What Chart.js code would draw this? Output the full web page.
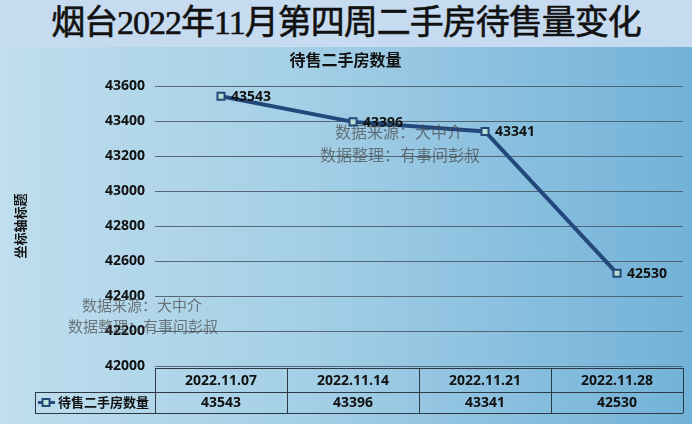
<!DOCTYPE html>
<html>
<head>
<meta charset="utf-8">
<script src="https://cdn.jsdelivr.net/npm/chart.js@4"></script>
<style>
  body { margin: 0; width: 692px; height: 424px; overflow: hidden; background: #c8dcf0; }
  #head {
    position: absolute; left: 0; top: 0; width: 692px; height: 46px;
    background: #c6dbf0;
    font-family: "Liberation Serif", "Noto Sans CJK SC", serif;
    font-size: 34px; font-weight: normal; color: #111;
    -webkit-text-stroke: 0.6px #111;
    line-height: 46px; text-align: center; letter-spacing: -1px;
  }
  #box {
    position: absolute; left: 0; top: 47px; width: 692px; height: 377px;
    background: linear-gradient(to right, #bfdeee 0%, #a4cfe6 45%, #72b2d8 100%);
  }
</style>
</head>
<body>
<div id="head">烟台2022年11月第四周二手房待售量变化</div>
<div id="box"><canvas id="c" width="692" height="377"></canvas></div>
<script>
var dates = ['2022.11.07', '2022.11.14', '2022.11.21', '2022.11.28'];
var stock = [43543, 43396, 43341, 42530];
var seriesName = '待售二手房数量';
var yMin = 42000, yMax = 43600, yStep = 200;

var lineColor = '#23497c';
var cjk = '"Noto Sans CJK SC", sans-serif';
var num = '"Open Sans", "Noto Sans CJK SC", sans-serif';

// value labels, watermark and the data table under the plot
var extras = {
  id: 'extras',
  afterDatasetsDraw: function(chart) {
    var ctx = chart.ctx;
    var meta = chart.getDatasetMeta(0);
    ctx.save();
    ctx.fillStyle = '#111';
    ctx.font = 'bold 14px ' + num;
    ctx.textAlign = 'left';
    ctx.textBaseline = 'middle';
    meta.data.forEach(function(p, i) {
      ctx.fillText(String(stock[i]), p.x + 10, p.y + 1);
    });

    // watermark
    ctx.fillStyle = 'rgba(70,70,70,0.68)';
    ctx.font = '16px ' + cjk;
    ctx.fillText('数据来源：大中介', 335, 85);
    ctx.fillText('数据整理：有事问彭叔', 320, 108);
    ctx.font = '15px ' + cjk;
    ctx.fillText('数据来源：大中介', 82, 258);
    ctx.fillText('数据整理：有事问彭叔', 68, 279);

    // table
    var area = chart.chartArea;
    var w = (area.right - area.left) / dates.length;
    var t0 = 321, t1 = 345, t2 = 366;
    ctx.strokeStyle = '#2d3a46';
    ctx.lineWidth = 1;
    ctx.beginPath();
    ctx.moveTo(area.left, t0 + 0.5); ctx.lineTo(area.right, t0 + 0.5);
    ctx.moveTo(35, t1 + 0.5); ctx.lineTo(area.right, t1 + 0.5);
    ctx.moveTo(35, t2 + 0.5); ctx.lineTo(area.right, t2 + 0.5);
    ctx.moveTo(35.5, t1); ctx.lineTo(35.5, t2);
    for (var i = 0; i <= dates.length; i++) {
      var x = Math.round(area.left + i * w) + 0.5;
      ctx.moveTo(x, t0); ctx.lineTo(x, t2);
    }
    ctx.stroke();

    ctx.fillStyle = '#111';
    ctx.textAlign = 'center';
    ctx.font = 'bold 14px ' + num;
    var xs = chart.scales.x;
    dates.forEach(function(d, i) {
      var cx = xs.getPixelForValue(i);
      ctx.fillText(d, cx, (t0 + t1) / 2 + 1);
      ctx.fillText(String(stock[i]), cx, (t1 + t2) / 2 + 1);
    });

    // legend key
    var ky = (t1 + t2) / 2;
    ctx.strokeStyle = lineColor;
    ctx.lineWidth = 3;
    ctx.beginPath(); ctx.moveTo(38, ky); ctx.lineTo(55, ky); ctx.stroke();
    ctx.fillStyle = '#bfe3d6';
    ctx.lineWidth = 2;
    ctx.fillRect(42.5, ky - 3.5, 7, 7);
    ctx.strokeRect(42.5, ky - 3.5, 7, 7);
    ctx.fillStyle = '#111';
    ctx.textAlign = 'left';
    ctx.font = 'bold 13px ' + cjk;
    ctx.fillText(seriesName, 58, ky);
    ctx.restore();
  }
};

new Chart(document.getElementById('c'), {
  type: 'line',
  data: {
    labels: dates,
    datasets: [{
      label: seriesName,
      data: stock,
      borderColor: lineColor,
      borderWidth: 4,
      pointStyle: 'rect',
      pointRadius: 5,
      pointBorderWidth: 2,
      pointBorderColor: lineColor,
      pointBackgroundColor: '#b7e0d2',
      tension: 0
    }]
  },
  plugins: [extras],
  options: {
    responsive: false,
    animation: false,
    layout: { padding: { left: 8, right: 9, top: 0, bottom: 58 } },
    scales: {
      x: { display: false, offset: true },
      y: {
        min: yMin, max: yMax,
        afterFit: function(s) { s.width = 147; },
        grid: { color: 'rgba(70,85,100,0.85)', drawTicks: false, lineWidth: 1 },
        border: { display: false },
        ticks: {
          stepSize: yStep, padding: 10, color: '#111',
          font: { family: num, size: 14, weight: 'bold' },
          callback: function(v) { return String(v); }
        },
        title: { display: true, text: '坐标轴标题', color: '#111', font: { family: cjk, size: 13, weight: 'bold' } }
      }
    },
    plugins: {
      legend: { display: false },
      tooltip: { enabled: false },
      title: {
        display: true, text: seriesName, color: '#111',
        font: { family: cjk, size: 16, weight: 'bold' },
        padding: { top: 3, bottom: 17 }
      }
    }
  }
});
</script>
</body>
</html>
